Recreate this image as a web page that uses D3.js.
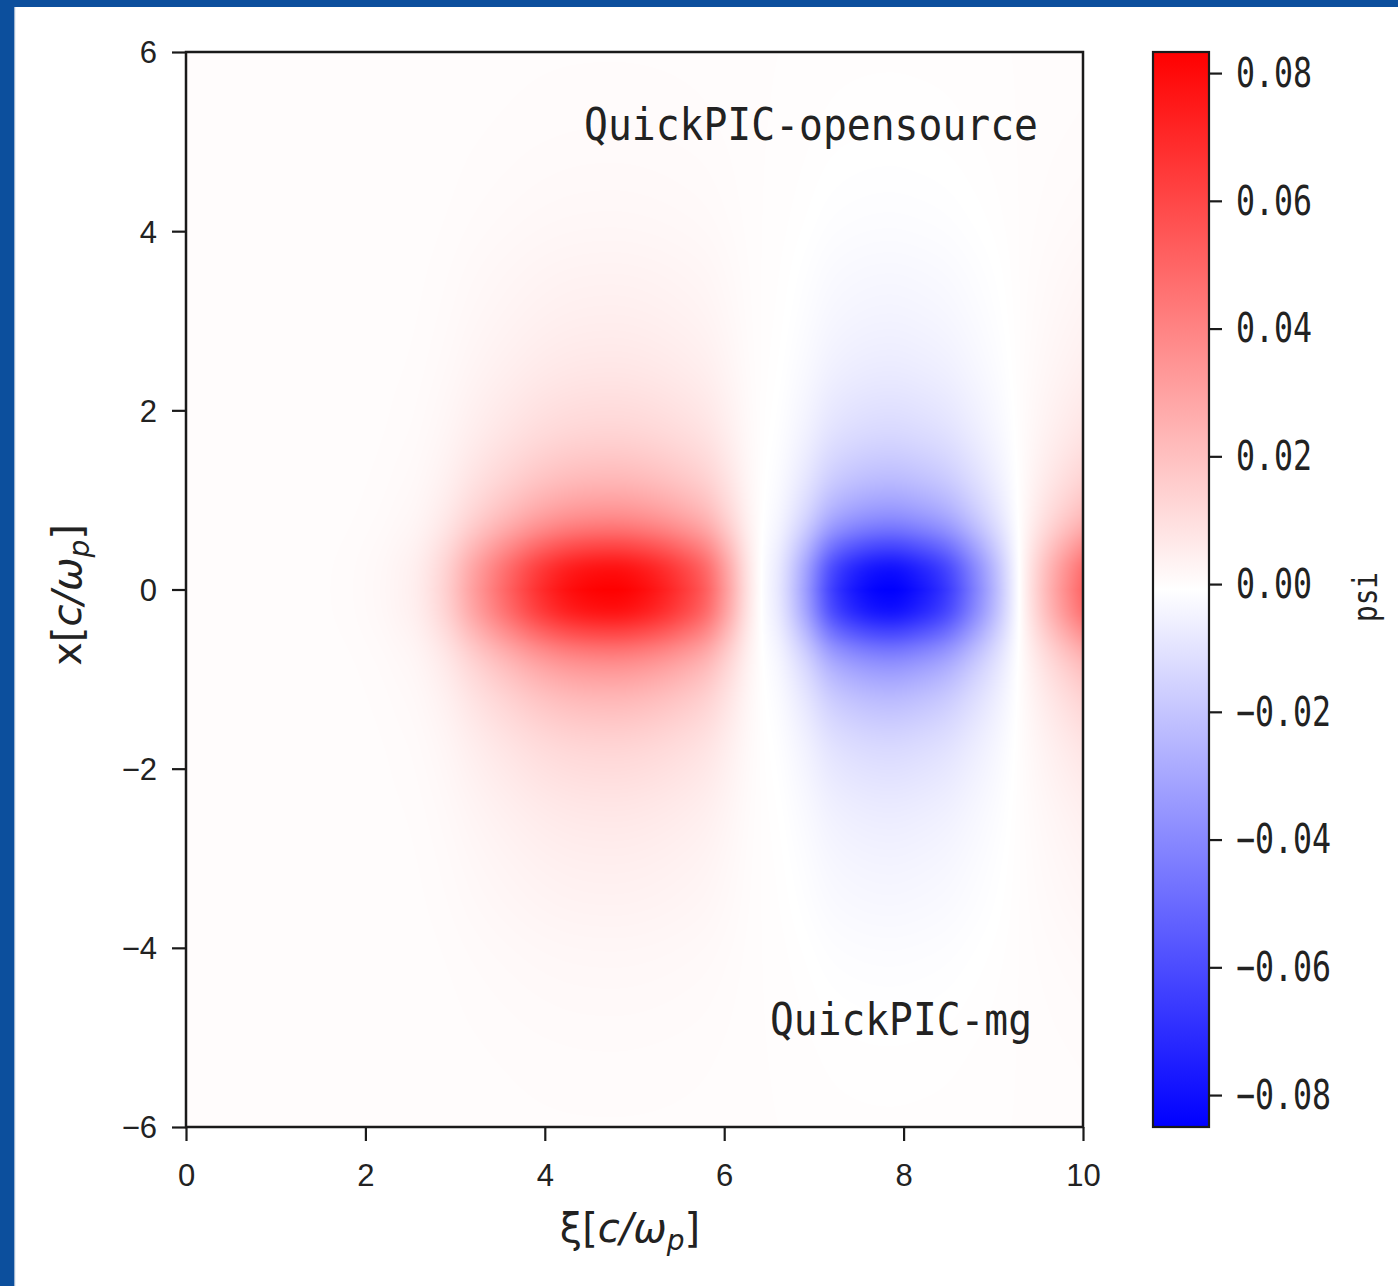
<!DOCTYPE html>
<html><head><meta charset="utf-8">
<script src="https://cdn.jsdelivr.net/npm/d3@7"></script>
<style>html,body{margin:0;padding:0;background:#fff;overflow:hidden}svg{display:block}</style>
</head><body>
<script>
// ---------------- data ----------------
const xiTicks = [0, 2, 4, 6, 8, 10];
const xTicks = [-6, -4, -2, 0, 2, 4, 6];
const cbTicks = [-0.08, -0.06, -0.04, -0.02, 0, 0.02, 0.04, 0.06, 0.08];
const cbTickLabels = ["−0.08", "−0.06", "−0.04", "−0.02", "0.00", "0.02", "0.04", "0.06", "0.08"];
const psiRange = [-0.0850, 0.0833];            // colour limits (vmin, vmax)
const xiDomain = [0, 10];
const xDomain = [-6, 6];
// psi on the axis (x = 0) as a function of xi
const xiSamples = [0, 1.0, 1.5, 2.0, 2.3, 2.6, 2.9, 3.2, 3.6, 3.95, 4.3, 4.75, 5.1, 5.5, 5.8, 6.05, 6.25, 6.4,
                   6.63, 6.89, 7.2, 7.5, 7.85, 8.16, 8.48, 8.8, 9.06, 9.3, 9.57, 10.0];
const psiOnAxis = [0, 0, 0.0002, 0.0010, 0.0025, 0.0058, 0.0150, 0.0308, 0.0516, 0.0683, 0.0791, 0.0833, 0.0791,
                   0.0666, 0.0516, 0.0292, 0.0100, 0,
                   -0.0102, -0.0315, -0.0638, -0.0791, -0.0850, -0.0791, -0.0663, -0.0425, -0.0213, 0, 0.0208, 0.0500];
// transverse profile of psi (relative to its value on the axis) versus |x|
const xSamples = [0, 0.25, 0.5, 0.65, 0.85, 1.15, 1.4, 1.76, 2.2, 2.5, 3.0, 3.5, 4.1, 5.0, 6.0];
const radialProfile = [1, 0.92, 0.71, 0.57, 0.43, 0.30, 0.23, 0.16, 0.11, 0.085, 0.058, 0.04, 0.022, 0.009, 0.003];
const annotations = ["QuickPIC-opensource", "QuickPIC-mg"];
const colorbarLabel = "psi";

// ---------------- layout ----------------
const W = 1398, H = 1286;
const plot = {left: 186, right: 1083, top: 52, bottom: 1127};
const cb = {left: 1153, right: 1209};

const svg = d3.select("body").append("svg").attr("width", W).attr("height", H);
svg.append("rect").attr("width", W).attr("height", H).attr("fill", "#fff");
svg.append("rect").attr("x", 0).attr("y", 0).attr("width", W).attr("height", 7).attr("fill", "#0c4f9d");
svg.append("rect").attr("x", 0).attr("y", 0).attr("width", 14).attr("height", H).attr("fill", "#0c4f9d");
svg.append("rect").attr("x", 14).attr("y", 7).attr("width", 1.2).attr("height", H - 7).attr("fill", "#9fb4cf");

const xScale = d3.scaleLinear().domain(xiDomain).range([plot.left, plot.right]);
const yScale = d3.scaleLinear().domain(xDomain).range([plot.bottom, plot.top]);
const color = d3.scaleLinear()
  .domain([psiRange[0], (psiRange[0] + psiRange[1]) / 2, psiRange[1]])
  .range(["#0000ff", "#ffffff", "#ff0000"]).clamp(true);

// smooth (monotone cubic) reading of the sampled profiles
function monotone(xs, ys) {
  const n = xs.length, d = [], m = new Array(n);
  for (let i = 0; i < n - 1; i++) d.push((ys[i + 1] - ys[i]) / (xs[i + 1] - xs[i]));
  m[0] = d[0]; m[n - 1] = d[n - 2];
  for (let i = 1; i < n - 1; i++) m[i] = (d[i - 1] * d[i] <= 0) ? 0 : (d[i - 1] + d[i]) / 2;
  for (let i = 0; i < n - 1; i++) {
    if (d[i] === 0) { m[i] = 0; m[i + 1] = 0; continue; }
    const a = m[i] / d[i], b = m[i + 1] / d[i], s = a * a + b * b;
    if (s > 9) { const t = 3 / Math.sqrt(s); m[i] = t * a * d[i]; m[i + 1] = t * b * d[i]; }
  }
  return function (x) {
    if (x <= xs[0]) return ys[0];
    if (x >= xs[n - 1]) return ys[n - 1];
    const i = Math.min(n - 2, d3.bisectRight(xs, x) - 1);
    const h = xs[i + 1] - xs[i], t = (x - xs[i]) / h, t2 = t * t, t3 = t2 * t;
    return (2 * t3 - 3 * t2 + 1) * ys[i] + (t3 - 2 * t2 + t) * h * m[i] +
           (-2 * t3 + 3 * t2) * ys[i + 1] + (t3 - t2) * h * m[i + 1];
  };
}
const axisFn = monotone(xiSamples, psiOnAxis);
const radialFn = monotone(xSamples, radialProfile);

// colour lookup table built from the d3 colour scale
const LUT = 2048;
const lut = d3.range(LUT).map(i => d3.rgb(color(psiRange[0] + (psiRange[1] - psiRange[0]) * i / (LUT - 1))));

// ---------------- heat map ----------------
const pw = plot.right - plot.left, ph = plot.bottom - plot.top;
const canvas = document.createElement("canvas");
canvas.width = pw; canvas.height = ph;
const ctx = canvas.getContext("2d");
const img = ctx.createImageData(pw, ph);
const colA = new Float64Array(pw), rowG = new Float64Array(ph);
for (let i = 0; i < pw; i++) colA[i] = axisFn(xScale.invert(plot.left + i + 0.5));
for (let j = 0; j < ph; j++) rowG[j] = radialFn(Math.abs(yScale.invert(plot.top + j + 0.5)));
for (let j = 0; j < ph; j++) {
  for (let i = 0; i < pw; i++) {
    const v = colA[i] * rowG[j];
    let k = Math.round((v - psiRange[0]) / (psiRange[1] - psiRange[0]) * (LUT - 1));
    k = Math.max(0, Math.min(LUT - 1, k));
    const c = lut[k], p = (j * pw + i) * 4;
    img.data[p] = c.r; img.data[p + 1] = c.g; img.data[p + 2] = c.b; img.data[p + 3] = 255;
  }
}
ctx.putImageData(img, 0, 0);
svg.append("image").attr("x", plot.left).attr("y", plot.top).attr("width", pw).attr("height", ph)
  .attr("preserveAspectRatio", "none").attr("href", canvas.toDataURL());

// annotations
const annoFont = "'DejaVu Sans Mono', monospace";
svg.append("text").attr("x", 584).attr("y", 140).attr("font-family", annoFont).attr("font-size", 45)
  .attr("fill", "#222").attr("textLength", 454).attr("lengthAdjust", "spacingAndGlyphs").text(annotations[0]);
svg.append("text").attr("x", 770).attr("y", 1035).attr("font-family", annoFont).attr("font-size", 45)
  .attr("fill", "#222").attr("textLength", 262).attr("lengthAdjust", "spacingAndGlyphs").text(annotations[1]);

// frame
svg.append("rect").attr("x", plot.left).attr("y", plot.top).attr("width", pw).attr("height", ph)
  .attr("fill", "none").attr("stroke", "#1a1a1a").attr("stroke-width", 2.5);

// axes
const tickFont = "'Liberation Sans', Arial, sans-serif";
const gx = svg.append("g").attr("transform", `translate(0,${plot.bottom})`)
  .call(d3.axisBottom(xScale).tickValues(xiTicks).tickSize(14).tickSizeOuter(0).tickFormat(d3.format("d")));
gx.selectAll("text").attr("y", 59).attr("dy", null);
const gy = svg.append("g").attr("transform", `translate(${plot.left},0)`)
  .call(d3.axisLeft(yScale).tickValues(xTicks).tickSize(14).tickSizeOuter(0).tickPadding(15).tickFormat(d3.format("d")));
gy.selectAll("text").attr("dy", "0.35em");
[gx, gy].forEach(g => {
  g.select(".domain").remove();
  g.selectAll("line").attr("stroke", "#1a1a1a").attr("stroke-width", 2.2);
  g.selectAll("text").attr("font-family", tickFont).attr("font-size", 31).attr("fill", "#222");
});

// axis labels
function mathLabel(sel, lead) {
  sel.append("tspan").text(lead + "[");
  sel.append("tspan").attr("font-style", "italic").text("c/ω");
  sel.append("tspan").attr("font-style", "italic").attr("font-size", 28).attr("dy", 8).text("p");
  sel.append("tspan").attr("dy", -8).text("]");
}
const xl = svg.append("text").attr("x", 630).attr("y", 1242).attr("text-anchor", "middle")
  .attr("font-family", "'DejaVu Sans', sans-serif").attr("font-size", 40).attr("fill", "#222");
mathLabel(xl, "ξ");
const yl = svg.append("text").attr("transform", "translate(81,595) rotate(-90)").attr("text-anchor", "middle")
  .attr("font-family", "'DejaVu Sans', sans-serif").attr("font-size", 40).attr("fill", "#222");
mathLabel(yl, "x");

// ---------------- colour bar ----------------
const cbScale = d3.scaleLinear().domain(psiRange).range([plot.bottom, plot.top]);
const defs = svg.append("defs");
const grad = defs.append("linearGradient").attr("id", "cbgrad").attr("x1", 0).attr("y1", 1).attr("x2", 0).attr("y2", 0);
color.domain().forEach(v => {
  grad.append("stop").attr("offset", (v - psiRange[0]) / (psiRange[1] - psiRange[0])).attr("stop-color", color(v));
});
svg.append("rect").attr("x", cb.left).attr("y", plot.top).attr("width", cb.right - cb.left).attr("height", ph)
  .attr("fill", "url(#cbgrad)").attr("stroke", "#1a1a1a").attr("stroke-width", 2.2);
const gcb = svg.append("g").attr("transform", `translate(${cb.right},0)`)
  .call(d3.axisRight(cbScale).tickValues(cbTicks).tickSize(13).tickSizeOuter(0).tickPadding(14)
    .tickFormat((d, i) => cbTickLabels[i]));
gcb.select(".domain").remove();
gcb.selectAll("line").attr("stroke", "#1a1a1a").attr("stroke-width", 2.2);
gcb.selectAll("text").attr("font-family", annoFont).attr("font-size", 40).attr("fill", "#222")
  .attr("dy", "0.33em")
  .attr("textLength", (d, i) => cbTickLabels[i].length * 19)
  .attr("lengthAdjust", "spacingAndGlyphs");
svg.append("text").attr("transform", "translate(1377,597) rotate(-90)").attr("text-anchor", "middle")
  .attr("font-family", annoFont).attr("font-size", 34).attr("fill", "#222")
  .attr("textLength", 50).attr("lengthAdjust", "spacingAndGlyphs").text(colorbarLabel);
</script>
</body></html>
